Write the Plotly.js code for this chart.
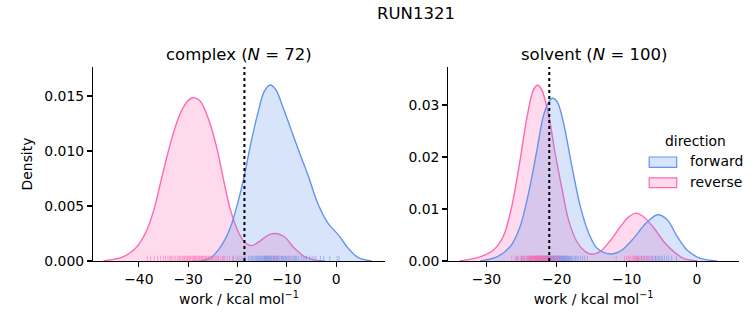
<!DOCTYPE html>
<html>
<head>
<meta charset="utf-8">
<script src="https://cdn.plot.ly/plotly-3.0.1.min.js"></script>
<style>html,body{margin:0;padding:0;background:#fff;}#chart{width:753px;height:325px;}</style>
</head>
<body>
<div id="chart"></div>
<script>
// ---- Data ----
const suptitle = "RUN1321";
const panelTitles = ["complex (<i>N</i> = 72)", "solvent (<i>N</i> = 100)"];
const directions = ["forward", "reverse"];

// KDE curves: complex
const complexFwdX = [-29.0,-27.5,-25.4,-23.4,-21.4,-20.0,-18.65,-17.3,-15.9,-14.6,-13.35,-12.2,-10.8,-9.1,-7.4,-5.7,-3.7,-1.6,0.4,2.45,4.5,7.2];
const complexFwdY = [0,0,0.0003,0.0013,0.0031,0.0052,0.0077,0.0107,0.0134,0.0154,0.0160,0.01555,0.0140,0.0119,0.0098,0.0078,0.0052,0.0034,0.0024,0.00115,0.0003,0];
const complexRevX = [-47.2,-43.1,-40.4,-38.4,-37.0,-35.3,-33.6,-31.9,-30.2,-29.0,-27.5,-25.8,-24.1,-22.7,-21.4,-20.0,-18.65,-17.1,-15.2,-13.55,-12.2,-10.5,-8.45,-6.4,-4.4,-2.3];
const complexRevY = [0,0.0004,0.0013,0.0028,0.0046,0.0077,0.0107,0.0131,0.0145,0.01485,0.0145,0.0128,0.0101,0.0071,0.0046,0.0028,0.00176,0.0014,0.0019,0.0024,0.0025,0.0022,0.00115,0.0004,0.0001,0];

// KDE curves: solvent
const solventFwdX = [-30.9,-28.5,-26.6,-25.2,-24.0,-22.8,-21.9,-21.1,-20.6,-19.9,-19.0,-17.8,-16.6,-15.4,-14.2,-12.3,-10.7,-9.0,-7.3,-5.6,-4.2,-2.8,-1.4,0.5,2.9];
const solventFwdY = [0,0.0008,0.0028,0.0066,0.0130,0.0213,0.0278,0.0306,0.0313,0.0306,0.0265,0.0181,0.0104,0.0053,0.0024,0.00135,0.0021,0.0044,0.0072,0.0089,0.0079,0.0047,0.0021,0.0005,0];
const solventRevX = [-33.8,-30.9,-29.0,-27.6,-26.4,-25.2,-24.2,-23.3,-22.7,-22.1,-21.1,-20.2,-19.2,-18.3,-17.1,-15.9,-15.0,-13.8,-12.3,-10.9,-9.7,-8.6,-7.6,-6.1,-4.7,-3.3,-1.9,0.05];
const solventRevY = [0,0.0008,0.0021,0.0047,0.0104,0.0194,0.0278,0.0329,0.0338,0.0329,0.0278,0.0207,0.0137,0.0079,0.0037,0.0018,0.0013,0.0018,0.0040,0.0066,0.0085,0.0092,0.0085,0.0063,0.0037,0.0018,0.0005,0];

// Rug values (individual works, estimated)
const complexFwdRug = [-20.8,-19.9,-19.1,-18.4,-17.8,-17.5,-17.2,-16.9,-16.7,-16.4,-16.2,-16.0,
  -15.9,-15.7,-15.5,-15.3,-15.1,-14.9,-14.8,-14.6,-14.5,-14.4,-14.3,-14.2,-14.1,-14.0,
  -13.9,-13.8,-13.6,-13.5,-13.4,-13.3,-13.1,-13.0,-12.8,-12.7,-12.5,-12.4,-12.2,-12.1,
  -11.9,-11.7,-11.5,-11.2,-11.0,-10.8,-10.6,-10.4,-10.2,-10.1,
  -9.8,-9.5,-9.2,-8.9,-8.6,-8.4,-8.2,-8.0,-7.6,-7.1,-6.7,-6.3,-6.0,
  -5.4,-4.9,-4.5,-4.1,-3.2,-2.5,-1.3,0.2,0.6];
const complexRevRug = [-38.3,-37.6,-36.9,-36.2,-35.6,-35.0,-34.6,-34.1,-33.7,-33.3,-32.9,-32.6,-32.2,-31.9,-31.5,-31.2,-30.9,-30.6,-30.3,-30.0,
  -29.8,-29.5,-29.2,-28.9,-28.7,-28.5,-28.2,-28.0,-27.8,-27.5,-27.3,-27.0,-26.8,-26.5,-26.3,-26.0,-25.7,-25.4,-25.1,-24.8,
  -24.5,-24.2,-23.8,-23.4,-23.0,-22.6,-22.1,-21.6,-21.0,-20.3,-19.5,-18.6,
  -33.5,-31.7,-30.8,-30.1,-29.6,-29.0,-28.4,-27.7,-27.1,-26.6,-25.9,-25.2,-24.0,-22.9,
  -15.3,-13.6,-12.7,-11.9,-11.0,-9.6];
const solventFwdRug = [-25.6,-25.0,-24.6,-24.2,-23.9,-23.6,-23.4,-23.2,-23.0,-22.8,-22.6,-22.4,-22.3,-22.1,-22.0,-21.9,-21.8,-21.7,-21.6,-21.5,
  -21.4,-21.3,-21.2,-21.1,-21.0,-20.9,-20.8,-20.7,-20.6,-20.5,-20.45,-20.4,-20.3,-20.2,-20.1,-20.0,-19.9,-19.8,-19.7,-19.6,
  -19.5,-19.4,-19.3,-19.2,-19.1,-19.0,-18.9,-18.8,-18.7,-18.6,-18.5,-18.4,-18.3,-18.2,-18.0,-17.9,-17.7,-17.5,-17.3,-17.1,
  -16.9,-16.6,-16.3,-16.0,-15.6,
  -24.9,-23.8,-22.9,-22.5,-22.2,-21.65,-21.35,-21.05,-20.75,-20.35,-20.05,-19.75,-19.45,-19.15,-18.85,-18.1,
  -8.4,-7.9,-7.5,-7.1,-6.8,-6.5,-6.3,-6.1,-5.9,-5.7,-5.5,-5.3,-5.1,-4.9,-4.6,-4.3,-4.0,-3.6,-2.9];
const solventRevRug = [-26.4,-25.9,-25.5,-25.2,-24.9,-24.7,-24.5,-24.3,-24.1,-24.0,-23.9,-23.8,-23.7,-23.6,-23.5,-23.4,-23.3,-23.2,-23.1,-23.05,
  -23.0,-22.95,-22.9,-22.85,-22.8,-22.75,-22.7,-22.65,-22.6,-22.55,-22.5,-22.45,-22.4,-22.35,-22.3,-22.25,-22.2,-22.1,-22.0,-21.9,
  -21.8,-21.7,-21.6,-21.5,-21.4,-21.3,-21.2,-21.0,-20.8,-20.6,-20.3,-20.0,-19.6,-19.1,
  -25.7,-25.0,-24.6,-24.2,-23.85,-23.55,-23.25,-22.98,-22.72,-22.48,-22.15,-21.95,-21.75,-21.55,-21.35,-21.1,-20.9,-20.5,-20.1,-19.8,-18.5,
  -11.5,-10.3,-10.0,-9.8,-9.6,-9.4,-9.2,-9.0,-8.9,-8.8,-8.7,-8.6,-8.5,-8.4,-8.3,-8.2,-8.0,-7.8,-7.6,-7.4,-7.2,-7.0,-6.8,-6.5,-5.9];

// Dotted reference lines (one per panel)
const dottedX = [-18.6, -21.04];

// ---- Styling ----
const FONT = "DejaVu Sans, Liberation Sans, sans-serif";
const BLUE = "rgb(100,149,237)", PINK = "rgb(255,105,180)";
const BLUE_F = "rgba(100,149,237,0.25)", PINK_F = "rgba(255,105,180,0.25)";
const BLUE_R = "rgba(100,149,237,0.55)", PINK_R = "rgba(255,105,180,0.55)";

function kde(x, y, line, fill, xa, ya) {
  return {x: x, y: y, type: "scatter", mode: "lines", xaxis: xa, yaxis: ya,
    line: {color: line, width: 1.4, shape: "spline", smoothing: 0.9},
    fill: "tozeroy", fillcolor: fill, showlegend: false, hoverinfo: "skip"};
}

const traces = [
  kde(complexRevX, complexRevY, PINK, PINK_F, "x", "y"),
  kde(complexFwdX, complexFwdY, BLUE, BLUE_F, "x", "y"),
  kde(solventRevX, solventRevY, PINK, PINK_F, "x2", "y2"),
  kde(solventFwdX, solventFwdY, BLUE, BLUE_F, "x2", "y2")
];

const shapes = [];
function rug(vals, color, xr, yr) {
  vals.forEach(v => shapes.push({type: "line", xref: xr, yref: yr + " domain",
    x0: v, x1: v, y0: 0, y1: 0.027, line: {color: color, width: 1}}));
}
rug(complexFwdRug, BLUE_R, "x", "y");
rug(complexRevRug, PINK_R, "x", "y");
rug(solventFwdRug, BLUE_R, "x2", "y2");
rug(solventRevRug, PINK_R, "x2", "y2");
[["x","y"],["x2","y2"]].forEach((ax, i) => shapes.push({type: "line", xref: ax[0], yref: ax[1] + " domain",
  x0: dottedX[i], x1: dottedX[i], y0: 0, y1: 1, line: {color: "black", width: 2, dash: "dot"}}));

// manual legend (matplotlib style patches)
const legendColors = [[BLUE_F, BLUE], [PINK_F, PINK]];
const legY = [[0.483, 0.536], [0.378, 0.428]];
const legLabelY = [0.515, 0.406];
directions.forEach((d, i) => shapes.push({type: "rect", xref: "paper", yref: "paper",
  x0: 0.861, x1: 0.9036, y0: legY[i][0], y1: legY[i][1],
  fillcolor: legendColors[i][0], line: {color: legendColors[i][1], width: 1.2}}));

const tickFont = {family: FONT, size: 13.9, color: "black"};
function xax(domain, range, title) {
  return {domain: domain, range: range, dtick: 10, tick0: 0, ticks: "outside", ticklen: 5, tickwidth: 1.1,
    tickcolor: "black", showline: true, linecolor: "black", linewidth: 1.1, showgrid: false, zeroline: false,
    tickfont: tickFont, title: {text: title, font: {family: FONT, size: 13.9, color: "black"}, standoff: 8}};
}
function yax(range, dtick, fmt, anchor, title) {
  const a = {range: range, dtick: dtick, tick0: 0, tickformat: fmt, ticks: "outside", ticklen: 5, tickwidth: 1.1,
    tickcolor: "black", showline: true, linecolor: "black", linewidth: 1.1, showgrid: false, zeroline: false,
    tickfont: tickFont, anchor: anchor};
  if (title) a.title = {text: title, font: {family: FONT, size: 13.9, color: "black"}, standoff: 8};
  return a;
}

const annotations = [
  {text: panelTitles[0], xref: "paper", yref: "paper", x: 0.226, y: 1.067, showarrow: false,
    xanchor: "center", yanchor: "middle", font: {family: FONT, size: 16.5, color: "black"}},
  {text: panelTitles[1], xref: "paper", yref: "paper", x: 0.775, y: 1.067, showarrow: false,
    xanchor: "center", yanchor: "middle", font: {family: FONT, size: 16.5, color: "black"}},
  {text: "direction", xref: "paper", yref: "paper", x: 0.932, y: 0.619, showarrow: false,
    xanchor: "center", yanchor: "middle", font: {family: FONT, size: 13.9, color: "black"}}
];
directions.forEach((d, i) => annotations.push({text: d, xref: "paper", yref: "paper", x: 0.9215, y: legLabelY[i],
  showarrow: false, xanchor: "left", yanchor: "middle", font: {family: FONT, size: 13.9, color: "black"}}));

const layout = {
  width: 753, height: 325,
  margin: {l: 93, r: 14, t: 67, b: 64, pad: 0},
  paper_bgcolor: "white", plot_bgcolor: "white",
  font: {family: FONT, color: "black"},
  title: {text: suptitle, x: 0.5, xref: "paper", xanchor: "center", y: 0.96, yref: "container", yanchor: "middle",
    font: {family: FONT, size: 16.5, color: "black"}},
  xaxis: xax([0, 0.452], [-49.3, 9.9], "work / kcal mol<sup>−1</sup>"),
  yaxis: yax([0, 0.01764], 0.005, ".3f", "x", "Density"),
  xaxis2: Object.assign(xax([0.550, 1], [-35.43, 6.0], "work / kcal mol<sup>−1</sup>"), {anchor: "y2"}),
  yaxis2: yax([0, 0.0373], 0.01, ".2f", "x2", null),
  shapes: shapes,
  annotations: annotations,
  showlegend: false
};
layout.xaxis.anchor = "y";

Plotly.newPlot("chart", traces, layout, {displayModeBar: false, staticPlot: true});
</script>
</body>
</html>
